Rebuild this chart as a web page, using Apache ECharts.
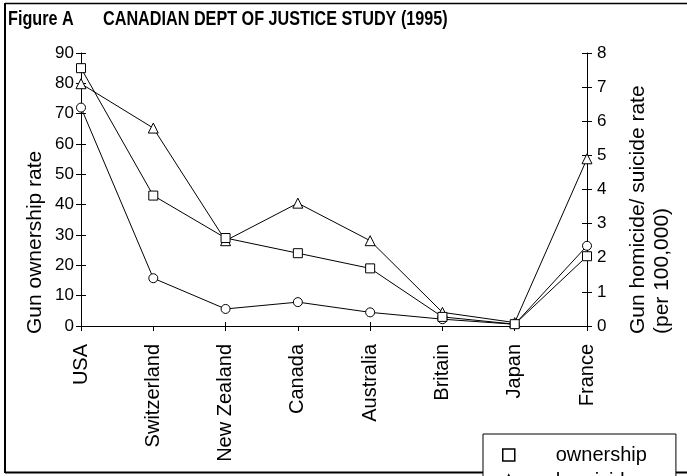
<!DOCTYPE html>
<html>
<head>
<meta charset="utf-8">
<script src="https://cdn.jsdelivr.net/npm/echarts@6/dist/echarts.min.js"></script>
<style>
  html, body { margin: 0; padding: 0; background: #fff; }
  #chart { width: 687px; height: 476px; }
</style>
</head>
<body>
<div id="chart"></div>
<script>
// values
const countries = ['USA', 'Switzerland', 'New Zealand', 'Canada', 'Australia', 'Britain', 'Japan', 'France']
const ownership = [85, 43, 29, 24, 19, 3, 0.6, 23]       // left axis, %
const homicide = [7.1, 5.8, 2.5, 3.6, 2.5, 0.4, 0.1, 4.9] // right axis, per 100,000
const suicide = [6.4, 1.4, 0.5, 0.7, 0.4, 0.2, 0.05, 2.35]
const leftTicks = { min: 0, max: 90, interval: 10 }
const rightTicks = { min: 0, max: 8, interval: 1 }

const font = 'Liberation Sans, Arial, sans-serif'

const chart = echarts.init(document.getElementById('chart'), null, { renderer: 'canvas' })

function lineSeries(name, data, yIdx, symbol, size) {
  return {
    name: name,
    type: 'line',
    yAxisIndex: yIdx,
    data: data,
    symbol: symbol,
    symbolSize: size,
    showAllSymbol: true,
    lineStyle: { color: '#000', width: 1 },
    itemStyle: { color: '#fff', borderColor: '#000', borderWidth: 1 },
    emphasis: { disabled: true },
    animation: false
  }
}

const valueAxisBase = {
  type: 'value',
  splitLine: { show: false },
  axisLine: { show: true, lineStyle: { color: '#000', width: 1 } },
  axisTick: { show: true, length: 5, lineStyle: { color: '#000' } },
  axisLabel: { color: '#000', fontFamily: font, fontSize: 17 }
}

chart.setOption({
  animation: false,
  grid: { left: 81, right: 100, top: 53, bottom: 150, containLabel: false },
  xAxis: [
    {
      type: 'category',
      data: countries,
      boundaryGap: false,
      axisLine: { lineStyle: { color: '#000', width: 1 } },
      axisTick: { show: true, length: 5, lineStyle: { color: '#000' } },
      axisLabel: { rotate: 90, margin: 18, color: '#000', fontFamily: font, fontSize: 20, interval: 0 }
    },
    {
      // inner half of the crossing ticks
      type: 'category',
      data: countries,
      boundaryGap: false,
      position: 'bottom',
      axisLine: { show: false },
      axisTick: { show: true, inside: true, length: 4, lineStyle: { color: '#000' } },
      axisLabel: { show: false }
    }
  ],
  yAxis: [
    Object.assign({}, valueAxisBase, leftTicks, { position: 'left',
      axisLabel: { color: '#000', fontFamily: font, fontSize: 17, margin: 7 } }),
    Object.assign({}, valueAxisBase, rightTicks, { position: 'right',
      axisLabel: { color: '#000', fontFamily: font, fontSize: 17, margin: 10 } }),
    Object.assign({}, valueAxisBase, leftTicks, { position: 'left', axisLine: { show: false },
      axisLabel: { show: false }, axisTick: { show: true, inside: true, length: 5, lineStyle: { color: '#000' } } }),
    Object.assign({}, valueAxisBase, rightTicks, { position: 'right', axisLine: { show: false },
      axisLabel: { show: false }, axisTick: { show: true, inside: true, length: 5, lineStyle: { color: '#000' } } })
  ],
  legend: {
    left: 483,
    top: 434,
    height: 120,
    orient: 'vertical',
    padding: [11, 29, 10, 19],
    itemGap: 6,
    itemWidth: 12,
    itemHeight: 12,
    backgroundColor: '#fff',
    borderColor: '#000',
    borderWidth: 1,
    borderRadius: 0,
    selectedMode: false,
    itemStyle: { color: '#fff', borderColor: '#000', borderWidth: 1.5 },
    lineStyle: { width: 0 },
    textStyle: { color: '#000', fontFamily: font, fontSize: 20, padding: [0, 0, 0, 36] },
    data: [
      { name: 'ownership', icon: 'rect' },
      { name: 'homicide', icon: 'triangle' },
      { name: 'suicide', icon: 'circle' }
    ]
  },
  graphic: [
    // frame
    { type: 'line', z: -1, shape: { x1: 5, y1: 3.5, x2: 687, y2: 3.5 }, style: { stroke: '#000', lineWidth: 1.5 } },
    { type: 'line', z: -1, shape: { x1: 5, y1: 3, x2: 5, y2: 473 }, style: { stroke: '#000', lineWidth: 2 } },
    { type: 'line', z: -1, shape: { x1: 5, y1: 472.5, x2: 687, y2: 472.5 }, style: { stroke: '#000', lineWidth: 2 } },
    // title (narrow bold face)
    { type: 'text', x: 8, y: 29, scaleX: 0.81,
      style: { text: 'Figure A', fill: '#000', font: 'bold 20px ' + font, textVerticalAlign: 'bottom' } },
    { type: 'text', x: 103, y: 29, scaleX: 0.81,
      style: { text: 'CANADIAN DEPT OF JUSTICE STUDY (1995)', fill: '#000', font: 'bold 20px ' + font, textVerticalAlign: 'bottom' } },
    // axis names
    { type: 'text', x: 35, y: 334, rotation: Math.PI / 2,
      style: { text: 'Gun ownership rate', fill: '#000', font: '21px ' + font, textAlign: 'left', textVerticalAlign: 'middle' } },
    { type: 'text', x: 638, y: 334, rotation: Math.PI / 2,
      style: { text: 'Gun homicide/ suicide rate', fill: '#000', font: '21px ' + font, textAlign: 'left', textVerticalAlign: 'middle' } },
    { type: 'text', x: 662, y: 334, rotation: Math.PI / 2,
      style: { text: '(per 100,000)', fill: '#000', font: '21px ' + font, textAlign: 'left', textVerticalAlign: 'middle' } }
  ],
  series: [
    lineSeries('suicide', suicide, 1, 'circle', 9),
    lineSeries('homicide', homicide, 1, 'triangle', 10),
    lineSeries('ownership', ownership, 0, 'rect', 9)
  ]
})
</script>
</body>
</html>
